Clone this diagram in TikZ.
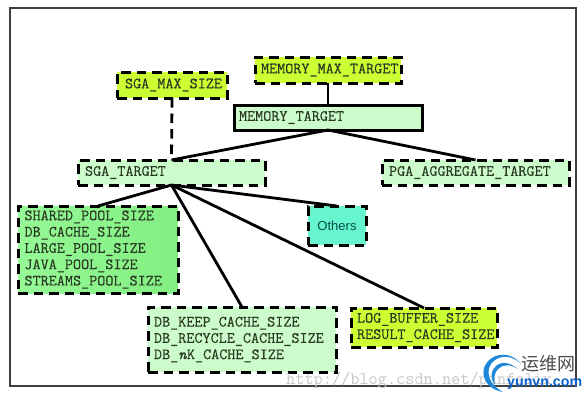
\documentclass[tikz,border=0pt]{standalone}
\usepackage{fontspec}
\setmainfont{Liberation Sans}
\newfontfamily\cjk{Noto Sans CJK SC}
\newfontfamily\boxfont[FakeBold=0.4]{Latin Modern Mono}
\definecolor{limebox}{HTML}{CCFF33}
\definecolor{palebox}{HTML}{CCFCCC}
\definecolor{greenleft}{HTML}{96FA96}
\definecolor{greenright}{HTML}{82EE82}
\definecolor{tealbox}{HTML}{66F5CC}
\definecolor{textdark}{HTML}{2A3A22}
\definecolor{logoblue}{HTML}{1E88D8}
\definecolor{logodeep}{HTML}{0A5FC8}
\tikzset{
	parambox/.style={draw=black, line width=3pt, dash pattern=on 9.5pt off 6pt,
		anchor=north west, inner sep=0pt, outer sep=0pt, text=textdark,
		font=\boxfont\fontsize{15.7}{16.3}\selectfont, align=left},
	link/.style={black, line width=2.8pt},
	linkdash/.style={link, dash pattern=on 9.5pt off 6pt},
}
\begin{document}
\begin{tikzpicture}[x=1pt, y=-1pt, line cap=butt, line join=miter]
	
	% Khung ngoai
	\useasboundingbox (0,0) rectangle (588,400);
	\fill[white] (0,0) rectangle (588,400);
	\draw[black!75, line width=1.2pt] (10,8) rectangle (576,386);
	
	% Hang tren
	\node[parambox, fill=limebox, minimum width=110pt, minimum height=26pt, text width=94pt] (sgamax) at (117,72) {SGA\_MAX\_SIZE};
	\node[parambox, fill=limebox, minimum width=146pt, minimum height=26pt, text width=134pt] (memmax) at (255,57) {MEMORY\_MAX\_TARGET};
	\node[parambox, fill=palebox, solid, minimum width=188pt, minimum height=25pt, text width=178pt] (memtarget) at (234,105) {MEMORY\_TARGET};
	
	% Hang giua
	\node[parambox, fill=palebox, minimum width=187pt, minimum height=25pt, text width=173pt] (sgatarget) at (78,160) {SGA\_TARGET};
	\node[parambox, fill=palebox, minimum width=187pt, minimum height=25pt, text width=173pt] (pgatarget) at (382,160) {PGA\_AGGREGATE\_TARGET};
	
	% Hang duoi
	\node[parambox, left color=greenleft, right color=greenright, minimum width=160pt, minimum height=87pt, text width=147pt] (sgapools) at (18,206)
		{SHARED\_POOL\_SIZE\\DB\_CACHE\_SIZE\\LARGE\_POOL\_SIZE\\JAVA\_POOL\_SIZE\\STREAMS\_POOL\_SIZE};
	\node[parambox, fill=tealbox, minimum width=58pt, minimum height=39pt, text width=58pt, align=center, text=teal!60!black,
		font=\rmfamily\fontsize{13}{15}\selectfont] (others) at (308,206) {Others};
	\node[parambox, fill=palebox, minimum width=188pt, minimum height=65pt, text width=176pt] (dbcaches) at (148,307)
		{DB\_KEEP\_CACHE\_SIZE\\DB\_RECYCLE\_CACHE\_SIZE\\DB\_\textit{n}K\_CACHE\_SIZE};
	\node[parambox, fill=limebox, minimum width=146pt, minimum height=39pt, text width=134pt] (logsize) at (351,308)
		{LOG\_BUFFER\_SIZE\\RESULT\_CACHE\_SIZE};
	
	% Duong noi
	\draw[linkdash] (sgamax.south) -- (sgatarget.north);
	\draw[link] (memmax.south) -- (memtarget.north);
	\draw[link] (memtarget.south) -- (sgatarget.north);
	\draw[link] (memtarget.south) -- (pgatarget.north);
	\draw[link] (sgatarget.south) -- (sgapools.north);
	\draw[link] (sgatarget.south) -- (dbcaches.north);
	\draw[link] (sgatarget.south) -- (others.north);
	\draw[link] (sgatarget.south) -- (logsize.north);
	
	% Dong chu mo
	\node[anchor=west, text=black!22, font=\ttfamily\fontsize{17.8}{18}\selectfont, inner sep=0pt] (wmurl) at (286,380) {http://blog.csdn.net/panfelix};
	
	% Logo
	\fill[logoblue] (521,364) .. controls (510,350) and (490,352) .. (484,368)
		.. controls (481,380) and (490,390) .. (503,392)
		.. controls (492,386) and (487,378) .. (489,368)
		.. controls (493,356) and (510,352) .. (521,364);
	\fill[logoblue] (518,369) .. controls (506,359) and (496,362) .. (492,372)
		.. controls (491,377) and (492,381) .. (495,385)
		.. controls (493,378) and (495,372) .. (498,369)
		.. controls (503,364) and (511,364) .. (518,369);
	\node[anchor=west, text=black!70, font=\cjk\fontsize{18}{18}\selectfont, inner sep=0pt] (logocn) at (521,364) {运维网};
	\node[anchor=west, text=logodeep, font=\bfseries\fontsize{14.2}{15}\selectfont, inner sep=0pt] (logoen) at (507,384) {yunvn.com};
	
\end{tikzpicture}
\end{document}
